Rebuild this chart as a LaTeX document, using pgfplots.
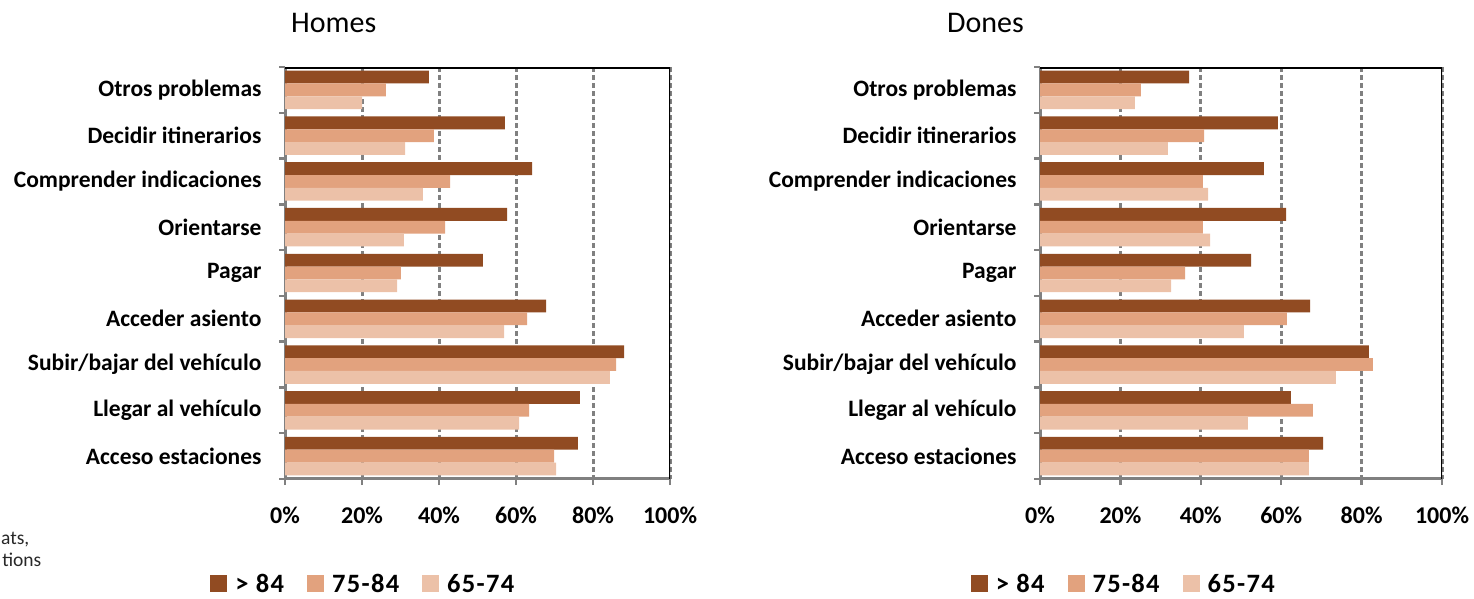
\documentclass[border=0pt]{standalone}
\usepackage{pgfplots}
\pgfplotsset{compat=1.18}
\usepackage{pgfplotstable}
\usepackage{fontspec}
\setmainfont{Carlito}
\definecolor{cDark}{RGB}{145,75,34}
\definecolor{cMed}{RGB}{226,162,126}
\definecolor{cLight}{RGB}{236,193,168}
\definecolor{gridgray}{RGB}{128,128,128}

\pgfplotstableread{
idx a b c
0 37.4 26.2 20.0
1 57.1 38.7 31.2
2 64.2 42.9 35.8
3 57.7 41.6 30.9
4 51.4 30.1 29.1
5 67.8 62.9 56.9
6 88.1 86.0 84.4
7 76.6 63.4 60.8
8 76.1 69.9 70.4
}\homes

\pgfplotstableread{
idx a b c
0 37.1 25.1 23.6
1 59.2 40.8 31.8
2 55.7 40.5 41.8
3 61.2 40.5 42.3
4 52.5 36.1 32.6
5 67.2 61.4 50.7
6 81.8 82.8 73.6
7 62.4 67.9 51.7
8 70.4 66.9 66.9
}\dones

\pgfplotsset{
  panel/.style={
    scale only axis, height=412pt,
    xbar, bar width=0.28,
    xmin=0, xmax=100, ymin=-0.5, ymax=8.5, y dir=reverse,
    xtick={0,20,...,100},
    xticklabels={0\%,20\%,40\%,60\%,80\%,100\%},
    ytick={0,...,8},
    yticklabels={Otros problemas, Decidir itinerarios, Comprender indicaciones, Orientarse, Pagar, Acceder asiento, Subir/bajar del vehículo, Llegar al vehículo, Acceso estaciones},
    minor ytick={-0.5,0.5,...,8.5},
    every major y tick/.append style={draw=none},
    every minor y tick/.append style={draw=gridgray, line width=2.5pt},
    x tick style={draw=gridgray, line width=2.5pt},
    major tick length=6pt, minor tick length=6pt,
    tick align=outside,
    axis x line*=bottom, axis y line*=left,
    axis line style={draw=gridgray, line width=3pt},
    xmajorgrids,
    major x grid style={draw=gridgray, line width=3pt, dash pattern=on 5pt off 3pt},
    yticklabel style={font=\bfseries\fontsize{23.5}{24}\selectfont, xshift=-14pt},
    xticklabel style={font=\bfseries\fontsize{24}{24}\selectfont, yshift=-18pt},
    legend columns=3,
    legend style={draw=none, fill=none, anchor=center,
      font=\bfseries\fontsize{26.5}{27}\selectfont\addfontfeature{LetterSpace=5},
      nodes={inner sep=0pt},
      /tikz/every even column/.append style={column sep=23pt},
      /tikz/every odd column/.append style={column sep=8pt}},
    legend image code/.code={\path[##1,draw=none] (0pt,-8pt) rectangle (17pt,9pt);},
  }
}

\begin{document}
\begin{tikzpicture}
\useasboundingbox (0,0) rectangle (1474pt,-599pt);

\node[anchor=base west, inner sep=0pt, font=\fontsize{30}{30}\selectfont] at (291pt,-33pt) {Homes};
\node[anchor=base west, inner sep=0pt, font=\fontsize{30}{30}\selectfont] at (947pt,-33pt) {Dones};

\node[anchor=base east, inner sep=0pt, font=\fontsize{19.5}{20}\selectfont, text={rgb,255:red,40;green,40;blue,40}] at (29.5pt,-544pt) {ats,};
\node[anchor=base east, inner sep=0pt, font=\fontsize{19.5}{20}\selectfont, text={rgb,255:red,40;green,40;blue,40}] at (41.5pt,-566pt) {tions};

\begin{axis}[panel, width=385pt, at={(285pt,-67pt)}, anchor=north west,
  legend style={at={(axis description cs:0.201,-0.256)}}]
  \addplot[fill=cDark, draw=none, bar shift=-0.28] table[x=a, y=idx] {\homes};
  \addplot[fill=cMed, draw=none, bar shift=0] table[x=b, y=idx] {\homes};
  \addplot[fill=cLight, draw=none, bar shift=0.28] table[x=c, y=idx] {\homes};
  \legend{> 84, 75-84, 65-74}
  \draw[black, line width=3pt] (axis description cs:0,1) -- (axis description cs:1,1) -- (axis description cs:1,0);
\end{axis}

\begin{axis}[panel, width=402pt, at={(1040pt,-67pt)}, anchor=north west,
  legend style={at={(axis description cs:0.206,-0.256)}}]
  \addplot[fill=cDark, draw=none, bar shift=-0.28] table[x=a, y=idx] {\dones};
  \addplot[fill=cMed, draw=none, bar shift=0] table[x=b, y=idx] {\dones};
  \addplot[fill=cLight, draw=none, bar shift=0.28] table[x=c, y=idx] {\dones};
  \legend{> 84, 75-84, 65-74}
  \draw[black, line width=3pt] (axis description cs:0,1) -- (axis description cs:1,1) -- (axis description cs:1,0);
\end{axis}
\end{tikzpicture}
\end{document}
